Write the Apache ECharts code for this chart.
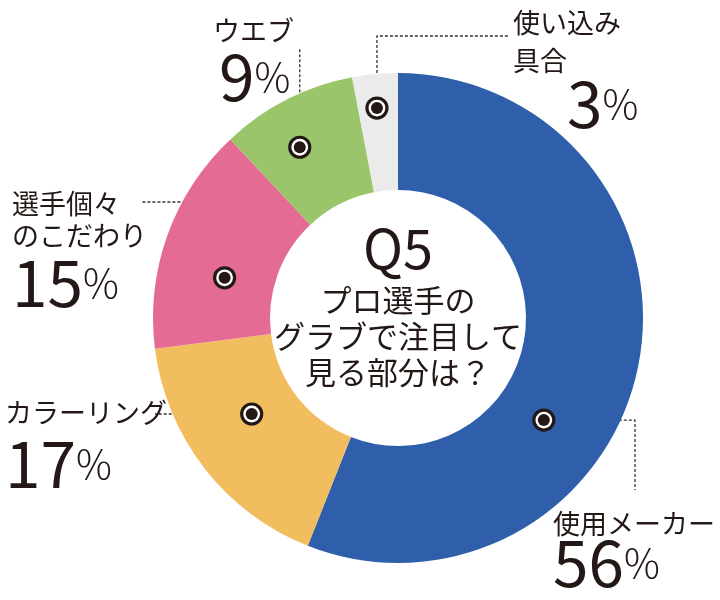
<!DOCTYPE html>
<html>
<head>
<meta charset="utf-8">
<script src="https://cdn.jsdelivr.net/npm/echarts@6/dist/echarts.min.js"></script>
<style>
    html, body { margin: 0; padding: 0; background: #fff; }
    #main { width: 720px; height: 600px; }
</style>
</head>
<body>
<div id="main"></div>
<script>
    // data
    const names = ['使用メーカー', 'カラーリング', '選手個々\nのこだわり', 'ウエブ', '使い込み\n具合'];
    const values = [56, 17, 15, 9, 3];
    const question = ['Q5', 'プロ選手の', 'グラブで注目して', '見る部分は？'];

    // styles / layout
    const colors = ['#2f5fab', '#f2bd5f', '#e46b94', '#9bc56b', '#ebebeb'];
    const ink = '#231815';
    const font = '"Noto Sans CJK JP", "Noto Sans", sans-serif';
    const center = [398, 318],
        radius = [128, 245];
    // where the marker sits: fraction along the slice, distance from centre
    const markerAt = [[0.62, 178], [0.574, 175], [0.375, 178], [0.41, 197], [0.47, 211]];
    // top-left of every label block
    const labelAt = [[553, 508], [5, 397], [12, 188], [213, 15], [513, 4]];
    const nameLine = [32, 32, 32, 32, 38];
    const pctLine = [46, 70, 62, 60, 48];
    const pctIndent = [0, 0, 0, 6, 54];
    // leader lines: h = horizontal first, v = vertical first
    const leaders = [['h', 635, 490], ['h', 155], ['v', 202, 142], ['v', 48], ['v', 36, 508]];

    const total = values.reduce((a, b) => a + b, 0);

    function markerPct(i) {
        let cum = 0;
        for (let k = 0; k < i; k++) cum += values[k];
        return cum + values[i] * markerAt[i][0];
    }

    function markerPixel(i) {
        const t = markerPct(i) / total * Math.PI * 2,
            r = markerAt[i][1];
        return [center[0] + r * Math.sin(t), center[1] - r * Math.cos(t)];
    }

    const rich = {};
    names.forEach((n, i) => {
        rich['n' + i] = { fontSize: 27, lineHeight: nameLine[i], color: ink, fontFamily: font };
        rich['p' + i] = {
            fontSize: 64, lineHeight: pctLine[i], color: ink, fontFamily: font,
            fontWeight: 'normal', padding: [0, 0, 0, pctIndent[i]]
        };
        rich['s' + i] = { fontSize: 40, lineHeight: pctLine[i], color: ink, fontFamily: font, fontWeight: 300 };
    });

    const markers = values.map((v, i) => [markerAt[i][1], markerPct(i)]);

    const chart = echarts.init(document.getElementById('main'));
    chart.setOption({
        backgroundColor: '#fff',
        animation: false,
        polar: { center: center, radius: radius[1] },
        angleAxis: { type: 'value', min: 0, max: total, startAngle: 90, show: false },
        radiusAxis: { type: 'value', min: 0, max: radius[1], show: false },
        graphic: question.map((q, i) => ({
            type: 'text',
            x: center[0],
            y: i === 0 ? 248 : 264 + i * 36,
            z: 10,
            style: {
                text: q,
                fill: ink,
                fontSize: i === 0 ? 54 : 31,
                fontFamily: font,
                align: 'center',
                verticalAlign: 'middle'
            }
        })),
        series: [
            {
                type: 'pie',
                center: center,
                radius: radius,
                startAngle: 90,
                clockwise: true,
                avoidLabelOverlap: false,
                silent: true,
                data: values.map((v, i) => ({ name: names[i], value: v, itemStyle: { color: colors[i] } })),
                label: {
                    show: true,
                    position: 'outside',
                    formatter: p => {
                        const i = p.dataIndex;
                        return p.name.split('\n').map(s => `{n${i}|${s}}`).join('\n')
                            + `\n{p${i}|${p.value}}{s${i}|%}`;
                    },
                    rich: rich
                },
                labelLine: {
                    show: true,
                    lineStyle: { color: '#333', width: 1.3, type: [3, 2] }
                },
                labelLayout: function (p) {
                    const i = p.dataIndex,
                        m = markerPixel(i),
                        l = leaders[i];
                    let pts;
                    if (l[0] === 'h') {
                        const a = [l[1], m[1]];
                        pts = [m, a, l.length > 2 ? [l[1], l[2]] : a];
                    } else {
                        const a = [m[0], l[1]];
                        pts = [m, a, l.length > 2 ? [l[2], l[1]] : a];
                    }
                    return {
                        x: labelAt[i][0],
                        y: labelAt[i][1],
                        align: 'left',
                        verticalAlign: 'top',
                        labelLinePoints: pts
                    };
                }
            },
            {
                type: 'scatter',
                coordinateSystem: 'polar',
                symbol: 'circle',
                symbolSize: 20,
                z: 5,
                silent: true,
                itemStyle: { color: '#fff', borderColor: ink, borderWidth: 3.2, opacity: 1 },
                data: markers
            },
            {
                type: 'scatter',
                coordinateSystem: 'polar',
                symbol: 'circle',
                symbolSize: 12,
                z: 6,
                silent: true,
                itemStyle: { color: ink, opacity: 1 },
                data: markers
            }
        ]
    });
</script>
</body>
</html>
